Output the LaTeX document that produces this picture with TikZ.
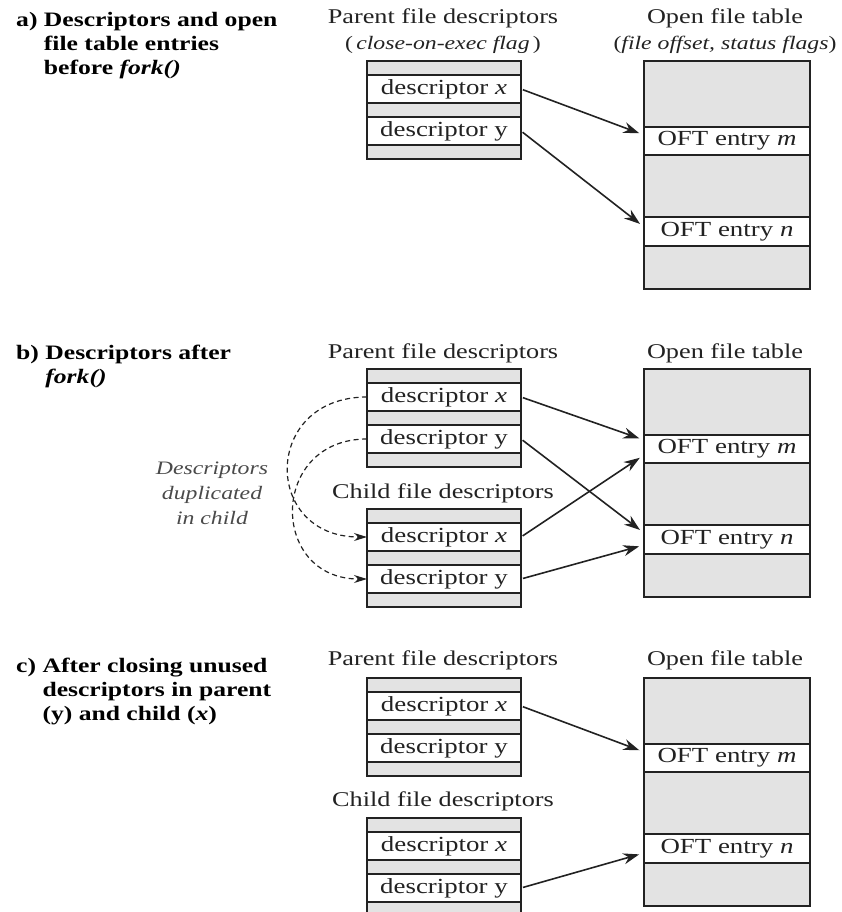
\documentclass[tikz,border=0pt]{standalone}
\usepackage{fontspec}
\setmainfont{Liberation Serif}[FakeStretch=1.25]
\usetikzlibrary{arrows.meta}

\definecolor{cellgray}{HTML}{E3E3E3}
\definecolor{ink}{HTML}{222222}
\definecolor{note}{HTML}{4A4A4A}

\tikzset{
  cell/.style={draw=ink, line width=1.8pt, inner sep=0pt, outer sep=0pt, anchor=north},
  fdw/.style={minimum width=154pt},
  oftw/.style={minimum width=166pt},
  blank/.style={cell, fill=cellgray},
  entry/.style={cell, fill=white, text=ink, font=\fontsize{21.5}{24}\selectfont},
  head/.style={inner sep=0pt, text=ink, font=\fontsize{21}{24}\selectfont},
  subhead/.style={inner sep=0pt, text=ink, font=\fontsize{19}{22}\selectfont},
  ttl/.style={inner sep=0pt, anchor=north west, text=black, font=\fontsize{20.5}{24}\selectfont\bfseries},
  remark/.style={inner sep=0pt, align=center, text=note, font=\fontsize{19}{25}\selectfont\itshape},
  link/.style={draw=ink, line width=1.6pt, shorten <=2pt, shorten >=5pt, -{Stealth[length=16pt,width=11pt]}},
  dup/.style={draw=ink, line width=1.2pt, dash pattern=on 5pt off 3.5pt, -{Stealth[length=13pt,width=8pt]}}
}

% descriptor table: #1 = name prefix, #2 = top edge
\newcommand\fdtable[2]{%
  \node[blank, fdw, minimum height=14pt] (#1-g1) at (444,#2) {};
  \node[entry, fdw, minimum height=28pt] (#1-x) at (#1-g1.south) {descriptor \textit{x}};
  \node[blank, fdw, minimum height=14pt] (#1-g2) at (#1-x.south) {};
  \node[entry, fdw, minimum height=28pt] (#1-y) at (#1-g2.south) {descriptor y};
  \node[blank, fdw, minimum height=14pt] (#1-g3) at (#1-y.south) {};
}
% open file table: #1 = name prefix, #2 = top edge
\newcommand\ofttable[2]{%
  \node[blank, oftw, minimum height=66pt] (#1-g1) at (727,#2) {};
  \node[entry, oftw, minimum height=28pt] (#1-m) at (#1-g1.south) {OFT entry \textit{m}};
  \node[blank, oftw, minimum height=62pt] (#1-g2) at (#1-m.south) {};
  \node[entry, oftw, minimum height=29pt] (#1-n) at (#1-g2.south) {OFT entry \textit{n}};
  \node[blank, oftw, minimum height=43pt] (#1-g3) at (#1-n.south) {};
}

\begin{document}
\begin{tikzpicture}[x=1pt, y=-1pt]
\useasboundingbox (0,0) rectangle (841,912);

% ---------- a) before fork() ----------
\node[ttl] (ta) at (16,10) {a) \begin{tabular}[t]{@{}l@{}}Descriptors and open\\ file table entries\\ before \textit{fork()}\end{tabular}};
\node[head] (pha) at (443,18) {Parent file descriptors};
\node[subhead] (psa) at (443,45) {(\,\textit{close-on-exec flag}\,)};
\node[head] (oha) at (725,18) {Open file table};
\node[subhead] (osa) at (725,45) {(\textit{file offset, status flags})};
\fdtable{pa}{61}
\ofttable{oa}{61}
\draw[link] (pa-x.east) -- ([yshift=6pt]oa-m.west);
\draw[link] (pa-y.east) -- ([yshift=4.5pt]oa-n.west);

% ---------- b) after fork() ----------
\node[ttl] (tb) at (16,342) {b) \begin{tabular}[t]{@{}l@{}}Descriptors after\\ \textit{fork()}\end{tabular}};
\node[head] (phb) at (443,353) {Parent file descriptors};
\node[head] (ohb) at (725,353) {Open file table};
\node[head] (chb) at (443,493) {Child file descriptors};
\node[remark] (dupnote) at (212,493) {Descriptors\\ duplicated\\ in child};
\fdtable{pb}{369}
\fdtable{cb}{509}
\ofttable{ob}{369}
\draw[dup] (pb-x.west) .. controls +(-105,0) and +(-105,0) .. (cb-x.west);
\draw[dup] (pb-y.west) .. controls +(-98,0) and +(-98,0) .. (cb-y.west);
\draw[link] (pb-x.east) -- ([yshift=9pt]ob-m.west);
\draw[link] (pb-y.east) -- ([yshift=6.5pt]ob-n.west);
\draw[link] (cb-x.east) -- ([yshift=-6pt]ob-m.west);
\draw[link] (cb-y.east) -- ([yshift=-5.5pt]ob-n.west);

% ---------- c) after closing unused descriptors ----------
\node[ttl] (tc) at (16,655) {c) \begin{tabular}[t]{@{}l@{}}After closing unused\\ descriptors in parent\\ (y) and child (\textit{x})\end{tabular}};
\node[head] (phc) at (443,660) {Parent file descriptors};
\node[head] (ohc) at (725,660) {Open file table};
\node[head] (chc) at (443,801) {Child file descriptors};
\fdtable{pc}{678}
\fdtable{cc}{818}
\ofttable{oc}{678}
\draw[link] (pc-x.east) -- ([yshift=6pt]oc-m.west);
\draw[link] (cc-y.east) -- ([yshift=-4.5pt]oc-n.west);
\end{tikzpicture}
\end{document}
